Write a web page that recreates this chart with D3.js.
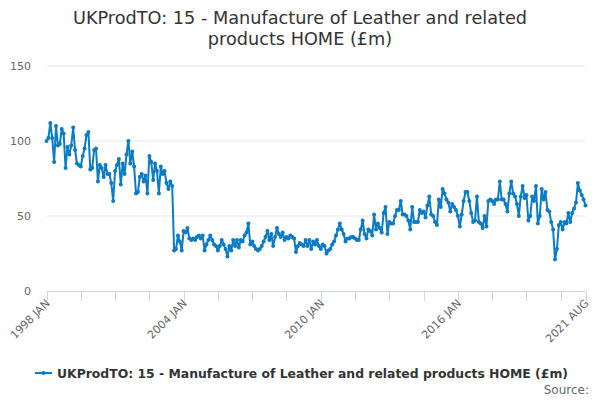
<!DOCTYPE html>
<html><head><meta charset="utf-8">
<script src="https://cdn.jsdelivr.net/npm/d3@7/dist/d3.min.js"></script>
<style>body{margin:0;background:#fff}svg{display:block;font-family:"DejaVu Sans",sans-serif}</style>
</head><body><svg id="c" width="600" height="400"></svg>
<script>
const titleLines = ["UKProdTO: 15 - Manufacture of Leather and related", "products HOME (£m)"];
const seriesName = "UKProdTO: 15 - Manufacture of Leather and related products HOME (£m)";
const startYear = 1998;
const monthNames = ["JAN","FEB","MAR","APR","MAY","JUN","JUL","AUG","SEP","OCT","NOV","DEC"];
const yTicks = [0, 50, 100, 150];
const xTickMonths = [0,18,36,54,72,90,108,126,144,162,180,198,216,234,252,270,283];
const xLabelMonths = [0,72,144,216,283];
const values = [
100,102,112,102,86,110,97,98,108,105,
82,96,91,97,109,94,85,84,83,90,
95,104,106,81,82,94,95,73,84,82,
76,84,78,78,72,60,80,84,88,71,
85,78,91,100,85,93,83,65,66,76,
78,73,77,65,90,86,74,85,80,65,
83,78,80,72,68,73,70,
27,28,37,33,27,40,39,42,
35,34,35,34,36,37,35,37,
27,
31,34,37,34,31,30,27,30,34,31,28,
23,
30,27,34,30,34,29,34,33,37,39,
45,
31,33,30,28,
27,
28,30,33,36,40,34,38,30,36,
42,
38,36,39,34,36,35,37,36,35,
26,
30,32,31,30,34,30,34,28,33,31,34,30,28,31,30,
25,
27,28,31,33,37,41,45,
41,38,33,35,35,36,36,35,34,34,
41,47,38,35,41,40,37,51,41,45,
42,39,52,56,38,46,45,45,50,54,
54,60,51,51,50,47,41,56,46,46,
46,54,52,53,49,57,63,51,50,46,
44,61,56,68,65,61,59,53,58,56,
54,50,43,51,60,66,66,60,52,46,
47,63,46,45,42,50,43,60,61,60,
58,61,61,73,61,61,58,53,65,73,
65,63,58,50,63,70,62,64,47,50,
63,60,70,45,50,68,61,66,54,53,
46,41,
21,28,44,46,41,46,45,52,46,52,55,59,72,67,64,61,57
];
const data = values.map((v,i)=>({m:i, v:v}));
const label = m => (startYear + Math.floor(m/12)) + " " + monthNames[m%12];

const svg = d3.select("#c");
const pLeft = 46.5, pRight = 585.5, pTop = 66, pBottom = 291;
const x = d3.scaleLinear().domain([0, values.length-1]).range([pLeft, pRight]);
const y = d3.scaleLinear().domain([0, 150]).range([pBottom, pTop]);
const color = "#0a7bc4";

// title
svg.append("text").attr("x",300).attr("y",24).attr("text-anchor","middle")
  .attr("fill","#333").style("font-size","17.7px")
  .selectAll("tspan").data(titleLines).join("tspan")
  .attr("x",300).attr("dy",(d,i)=>i?21:0).text(d=>d);

// gridlines
svg.append("g").selectAll("line").data(yTicks.filter(d=>d>0)).join("line")
  .attr("x1",pLeft).attr("x2",pRight).attr("y1",d=>y(d)).attr("y2",d=>y(d))
  .attr("stroke","#e6e6e6").attr("stroke-width",1);
svg.append("g").selectAll("text").data(yTicks).join("text")
  .attr("x",31).attr("y",d=>y(d)+4).attr("text-anchor","end")
  .attr("fill","#666").style("font-size","11px").text(d=>d);

// x axis
const xa = svg.append("g");
xa.append("line").attr("x1",pLeft).attr("x2",pRight).attr("y1",pBottom+0.5).attr("y2",pBottom+0.5)
  .attr("stroke","#ccd6eb");
xa.selectAll("line.t").data(xTickMonths).join("line").attr("class","t")
  .attr("x1",d=>Math.round(x(d))+0.5).attr("x2",d=>Math.round(x(d))+0.5)
  .attr("y1",pBottom).attr("y2",pBottom+10).attr("stroke","#ccd6eb");
xa.selectAll("text").data(xLabelMonths).join("text")
  .attr("text-anchor","end").attr("fill","#666").style("font-size","11px")
  .attr("transform",d=>`translate(${x(d)+4},${pBottom+13}) rotate(-45)`)
  .text(d=>label(d));

// line
svg.append("path").datum(data)
  .attr("d", d3.line().x(d=>x(d.m)).y(d=>y(d.v)))
  .attr("fill","none").attr("stroke",color).attr("stroke-width",2)
  .attr("stroke-linejoin","round");
svg.append("g").selectAll("circle").data(data).join("circle")
  .attr("cx",d=>x(d.m)).attr("cy",d=>y(d.v)).attr("r",2).attr("fill",color);

// legend
const lg = svg.append("g");
lg.append("line").attr("x1",35).attr("x2",52).attr("y1",373).attr("y2",373)
  .attr("stroke",color).attr("stroke-width",2);
lg.append("circle").attr("cx",43.5).attr("cy",373).attr("r",2).attr("fill",color);
lg.append("text").attr("x",57).attr("y",377.7).attr("fill","#333")
  .style("font-size","12.4px").style("font-weight","bold").text(seriesName);
svg.append("text").attr("x",589).attr("y",394).attr("text-anchor","end")
  .attr("fill","#666").style("font-size","12px").text("Source:");
</script></body></html>
